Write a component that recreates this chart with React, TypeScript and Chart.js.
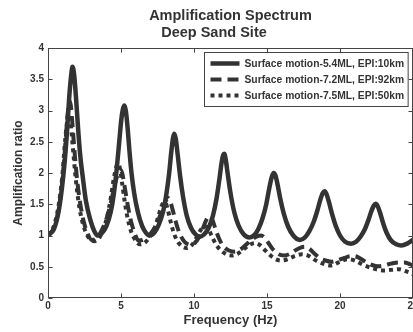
import React, { useEffect, useRef } from "react";
import { Chart, registerables } from "chart.js";

Chart.register(...registerables);

const TITLE_LINES = ["Amplification Spectrum", "   Deep Sand Site"];
const X_LABEL = "Frequency (Hz)";
const Y_LABEL = "Amplification ratio";
const SERIES_LABELS = [
  "Surface motion-5.4ML, EPI:10km",
  "Surface motion-7.2ML, EPI:92km",
  "Surface motion-7.5ML, EPI:50km",
];

// Surface motion-5.4ML, EPI:10km (solid)
const freqA = [
  0, 0.4, 0.7, 0.95, 1.15, 1.3, 1.45, 1.58, 1.68, 1.8, 1.92, 2.05, 2.2, 2.4, 2.6, 2.9, 3.15, 3.4,
  3.7, 4.0, 4.3, 4.5, 4.7, 4.88, 5.02, 5.14, 5.24, 5.34, 5.46, 5.58, 5.72, 5.9, 6.15, 6.45, 6.75, 6.95,
  7.3, 7.6, 7.9, 8.1, 8.3, 8.45, 8.57, 8.65, 8.75, 8.88, 9.05, 9.25, 9.5, 9.8, 10.1, 10.4,
  10.7, 11.0, 11.3, 11.55, 11.75, 11.9, 12.0, 12.07, 12.17, 12.3, 12.5, 12.75, 13.05, 13.4, 13.8,
  14.1, 14.4, 14.7, 14.95, 15.15, 15.32, 15.45, 15.58, 15.72, 15.9, 16.15, 16.45, 16.8, 17.25,
  17.6, 17.9, 18.2, 18.45, 18.65, 18.82, 18.95, 19.08, 19.25, 19.45, 19.7, 20.0, 20.35, 20.75,
  21.1, 21.4, 21.7, 21.95, 22.15, 22.32, 22.45, 22.58, 22.75, 22.95, 23.2, 23.5, 23.85, 24.2, 24.6, 25,
];
const ampA = [
  1.0, 1.1, 1.35, 1.75, 2.2, 2.65, 3.2, 3.55, 3.7, 3.55, 3.2, 2.75, 2.3, 1.9, 1.55, 1.25, 1.08, 1.0,
  1.04, 1.15, 1.38, 1.65, 2.05, 2.5, 2.85, 3.03, 3.08, 2.98, 2.7, 2.35, 2.0, 1.68, 1.38, 1.15, 1.03, 1.0,
  1.05, 1.18, 1.4, 1.65, 2.0, 2.35, 2.57, 2.63, 2.55, 2.3, 1.95, 1.62, 1.32, 1.12, 1.02, 0.98,
  1.02, 1.12, 1.32, 1.6, 1.92, 2.18, 2.29, 2.31, 2.22, 2.0, 1.68, 1.38, 1.16, 1.02, 0.97,
  1.0, 1.1, 1.28, 1.5, 1.75, 1.93, 2.0, 1.96, 1.82, 1.6, 1.35, 1.14, 1.0, 0.93,
  0.97, 1.07, 1.22, 1.4, 1.57, 1.68, 1.71, 1.66, 1.53, 1.35, 1.16, 1.0, 0.9, 0.87,
  0.9, 0.98, 1.1, 1.25, 1.39, 1.48, 1.51, 1.47, 1.36, 1.2, 1.04, 0.92, 0.86, 0.84, 0.87, 0.93,
];

// Surface motion-7.2ML, EPI:92km (dashed)
const freqB = [
  0, 0.4, 0.7, 0.9, 1.05, 1.2, 1.33, 1.43, 1.5, 1.58, 1.7, 1.85, 2.0, 2.2, 2.45, 2.7, 3.0,
  3.3, 3.6, 3.9, 4.2, 4.45, 4.65, 4.85, 4.98, 5.1, 5.25, 5.45, 5.65, 5.9, 6.2,
  6.5, 6.9, 7.3, 7.6, 7.85, 8.05, 8.22, 8.38, 8.55, 8.75, 9.0, 9.35, 9.8,
  10.2, 10.5, 10.75, 10.95, 11.1, 11.25, 11.45, 11.7, 12.0, 12.4, 12.8,
  13.2, 13.6, 14.0, 14.35, 14.6, 14.85, 15.1, 15.4, 15.8, 16.2,
  16.6, 17.0, 17.35, 17.6, 17.9, 18.25, 18.6, 19.0, 19.4,
  19.8, 20.3, 20.7, 21.0, 21.4, 21.9, 22.3, 22.6,
  23.0, 23.5, 24.0, 24.4, 24.8, 25,
];
const ampB = [
  1.0, 1.12, 1.38, 1.7, 2.05, 2.5, 2.9, 3.1, 3.15, 3.05, 2.7, 2.25, 1.88, 1.52, 1.22, 1.04, 0.93,
  0.95, 1.05, 1.2, 1.42, 1.68, 1.88, 2.02, 2.05, 1.98, 1.78, 1.5, 1.26, 1.06, 0.92,
  0.93, 1.0, 1.12, 1.27, 1.43, 1.55, 1.6, 1.54, 1.4, 1.22, 1.04, 0.9, 0.85,
  0.92, 1.05, 1.2, 1.29, 1.31, 1.26, 1.12, 0.96, 0.83, 0.76, 0.74,
  0.78, 0.86, 0.94, 0.99, 1.0, 0.96, 0.88, 0.78, 0.7, 0.68,
  0.71, 0.77, 0.81, 0.82, 0.79, 0.71, 0.64, 0.6, 0.58,
  0.6, 0.64, 0.67, 0.67, 0.63, 0.56, 0.52, 0.51,
  0.52, 0.55, 0.57, 0.57, 0.54, 0.52,
];

// Surface motion-7.5ML, EPI:50km (dotted)
const freqC = [
  0, 0.35, 0.65, 0.85, 1.0, 1.13, 1.27, 1.38, 1.45, 1.53, 1.65, 1.8, 1.95, 2.15, 2.4, 2.7, 3.0, 3.2,
  3.5, 3.8, 4.05, 4.3, 4.5, 4.68, 4.8, 4.92, 5.07, 5.25, 5.45, 5.7, 6.0, 6.3,
  6.6, 6.95, 7.3, 7.55, 7.75, 7.93, 8.05, 8.2, 8.4, 8.65, 8.95, 9.5,
  9.9, 10.2, 10.5, 10.75, 10.95, 11.2, 11.5, 11.9, 12.3, 12.6,
  13.0, 13.4, 13.8, 14.2, 14.5, 14.8, 15.2, 15.6, 16.0,
  16.4, 16.9, 17.4, 17.8, 18.2, 18.7, 19.4,
  19.9, 20.5, 21.0, 21.6, 22.3, 23.0,
  23.5, 24.0, 24.5, 25,
];
const ampC = [
  1.0, 1.12, 1.38, 1.68, 2.0, 2.4, 2.75, 2.92, 2.95, 2.86, 2.55, 2.15, 1.8, 1.45, 1.18, 1.0, 0.92, 0.91,
  0.96, 1.1, 1.3, 1.6, 1.9, 2.1, 2.15, 2.08, 1.85, 1.55, 1.28, 1.06, 0.92, 0.86,
  0.88, 0.97, 1.12, 1.3, 1.45, 1.53, 1.52, 1.42, 1.22, 1.02, 0.88, 0.8,
  0.86, 0.98, 1.1, 1.15, 1.12, 1.0, 0.86, 0.75, 0.69, 0.68,
  0.71, 0.78, 0.85, 0.88, 0.85, 0.78, 0.69, 0.62, 0.6,
  0.62, 0.67, 0.7, 0.68, 0.62, 0.56, 0.52,
  0.57, 0.62, 0.6, 0.53, 0.47, 0.44,
  0.45, 0.46, 0.43, 0.38,
];

const X_MIN = 0;
const X_MAX = 25;
const X_STEP = 5;
const Y_MIN = 0;
const Y_MAX = 4;
const Y_STEP = 0.5;

const INK = "#333333";
const AXIS = "#444444";
const FONT = "'Liberation Sans', Arial, Helvetica, sans-serif";

const toPoints = (xs: number[], ys: number[]) => xs.map((x, i) => ({ x, y: ys[i] }));

const titlePlugin = {
  id: "matlabTitle",
  afterDraw(chart: any) {
    const { ctx, chartArea } = chart;
    ctx.save();
    ctx.fillStyle = INK;
    ctx.font = `bold 14.5px ${FONT}`;
    ctx.textAlign = "left";
    ctx.textBaseline = "alphabetic";
    const w1 = ctx.measureText(TITLE_LINES[0]).width;
    const x0 = (chartArea.left + chartArea.right) / 2 - w1 / 2;
    ctx.fillText(TITLE_LINES[0], x0, 19.5);
    ctx.fillText(TITLE_LINES[1], x0, 36.5);
    ctx.restore();
  },
};

const framePlugin = {
  id: "matlabFrame",
  afterDatasetsDraw(chart: any) {
    const { ctx, chartArea: a, scales } = chart;
    const L = Math.round(a.left) + 0.5;
    const R = Math.round(a.right) - 0.5;
    const T = Math.round(a.top) + 0.5;
    const B = Math.round(a.bottom) - 0.5;
    ctx.save();
    ctx.strokeStyle = AXIS;
    ctx.lineWidth = 1;
    ctx.strokeRect(L, T, R - L, B - T);
    const tl = 4;
    ctx.beginPath();
    scales.x.ticks.forEach((t: any) => {
      const px = Math.round(scales.x.getPixelForValue(t.value)) + 0.5;
      ctx.moveTo(px, B);
      ctx.lineTo(px, B - tl);
      ctx.moveTo(px, T);
      ctx.lineTo(px, T + tl);
    });
    scales.y.ticks.forEach((t: any) => {
      const py = Math.round(scales.y.getPixelForValue(t.value)) + 0.5;
      ctx.moveTo(L, py);
      ctx.lineTo(L + tl, py);
      ctx.moveTo(R, py);
      ctx.lineTo(R - tl, py);
    });
    ctx.stroke();
    ctx.restore();
  },
};

const legendPlugin = {
  id: "matlabLegend",
  afterDraw(chart: any) {
    const { ctx, chartArea: a } = chart;
    const sets = chart.data.datasets;
    ctx.save();
    ctx.font = `bold 10.3px ${FONT}`;
    let tw = 0;
    sets.forEach((d: any) => (tw = Math.max(tw, ctx.measureText(d.label).width)));
    const padL = 6;
    const sample = 29;
    const gap = 5;
    const padR = 4;
    const rowH = 16;
    const w = padL + sample + gap + tw + padR;
    const h = rowH * sets.length + 6;
    const right = a.right - 5;
    const left = Math.round(right - w) + 0.5;
    const top = Math.round(a.top + 4) + 0.5;
    ctx.fillStyle = "#ffffff";
    ctx.fillRect(left, top, w, h);
    ctx.strokeStyle = AXIS;
    ctx.lineWidth = 1;
    ctx.strokeRect(left, top, w, h);
    sets.forEach((d: any, i: number) => {
      const cy = top + 3 + rowH * i + rowH / 2;
      ctx.beginPath();
      ctx.strokeStyle = d.borderColor;
      ctx.lineWidth = d.borderWidth;
      ctx.lineCap = "butt";
      ctx.setLineDash(d.borderDash || []);
      ctx.moveTo(left + padL, cy);
      ctx.lineTo(left + padL + sample, cy);
      ctx.stroke();
      ctx.setLineDash([]);
      ctx.fillStyle = INK;
      ctx.textAlign = "left";
      ctx.textBaseline = "middle";
      ctx.fillText(d.label, left + padL + sample + gap, cy + 0.5);
    });
    ctx.restore();
  },
};

export default function App() {
  const ref = useRef<HTMLCanvasElement | null>(null);

  useEffect(() => {
    document.body.style.margin = "0";
    const canvas = ref.current;
    if (!canvas) return;
    const common = {
      borderColor: INK,
      backgroundColor: INK,
      pointRadius: 0,
      fill: false,
      cubicInterpolationMode: "monotone" as const,
      borderCapStyle: "butt" as const,
      borderJoinStyle: "round" as const,
    };
    const chart = new Chart(canvas, {
      type: "line",
      data: {
        datasets: [
          { ...common, label: SERIES_LABELS[0], data: toPoints(freqA, ampA), borderWidth: 4.5, borderDash: [] },
          { ...common, label: SERIES_LABELS[1], data: toPoints(freqB, ampB), borderWidth: 4, borderDash: [11, 6] },
          { ...common, label: SERIES_LABELS[2], data: toPoints(freqC, ampC), borderWidth: 4, borderDash: [4, 4] },
        ],
      },
      options: {
        animation: false,
        responsive: false,
        devicePixelRatio: 1,
        parsing: false as any,
        layout: { padding: { top: 48, right: 27, left: 0, bottom: 0 } },
        plugins: {
          legend: { display: false },
          title: { display: false },
          tooltip: { enabled: false },
        },
        scales: {
          x: {
            type: "linear",
            min: X_MIN,
            max: X_MAX,
            afterFit: (s: any) => {
              s.height = 34;
            },
            grid: { display: true, drawOnChartArea: false, drawTicks: false },
            border: { display: false },
            ticks: {
              stepSize: X_STEP,
              padding: 2,
              color: INK,
              font: { family: FONT, size: 10, weight: "bold" },
              maxRotation: 0,
            },
            title: {
              display: true,
              text: X_LABEL,
              color: INK,
              font: { family: FONT, size: 13, weight: "bold" },
              padding: { top: 0, bottom: 4 },
            },
          },
          y: {
            type: "linear",
            min: Y_MIN,
            max: Y_MAX,
            afterFit: (s: any) => {
              s.width = 48;
            },
            grid: { display: true, drawOnChartArea: false, drawTicks: false },
            border: { display: false },
            ticks: {
              stepSize: Y_STEP,
              padding: 4,
              color: INK,
              font: { family: FONT, size: 10, weight: "bold" },
              callback: (v: any) => String(v),
            },
            title: {
              display: true,
              text: Y_LABEL,
              color: INK,
              font: { family: FONT, size: 12, weight: "bold" },
              padding: { top: 11, bottom: 0 },
            },
          },
        },
      },
      plugins: [framePlugin, titlePlugin, legendPlugin],
    } as any);
    return () => chart.destroy();
  }, []);

  return (
    <div
      style={{
        position: "fixed",
        left: 0,
        top: 0,
        width: 413,
        height: 332,
        overflow: "hidden",
        background: "#ffffff",
      }}
    >
      <canvas ref={ref} width={440} height={332} style={{ display: "block" }} />
    </div>
  );
}
